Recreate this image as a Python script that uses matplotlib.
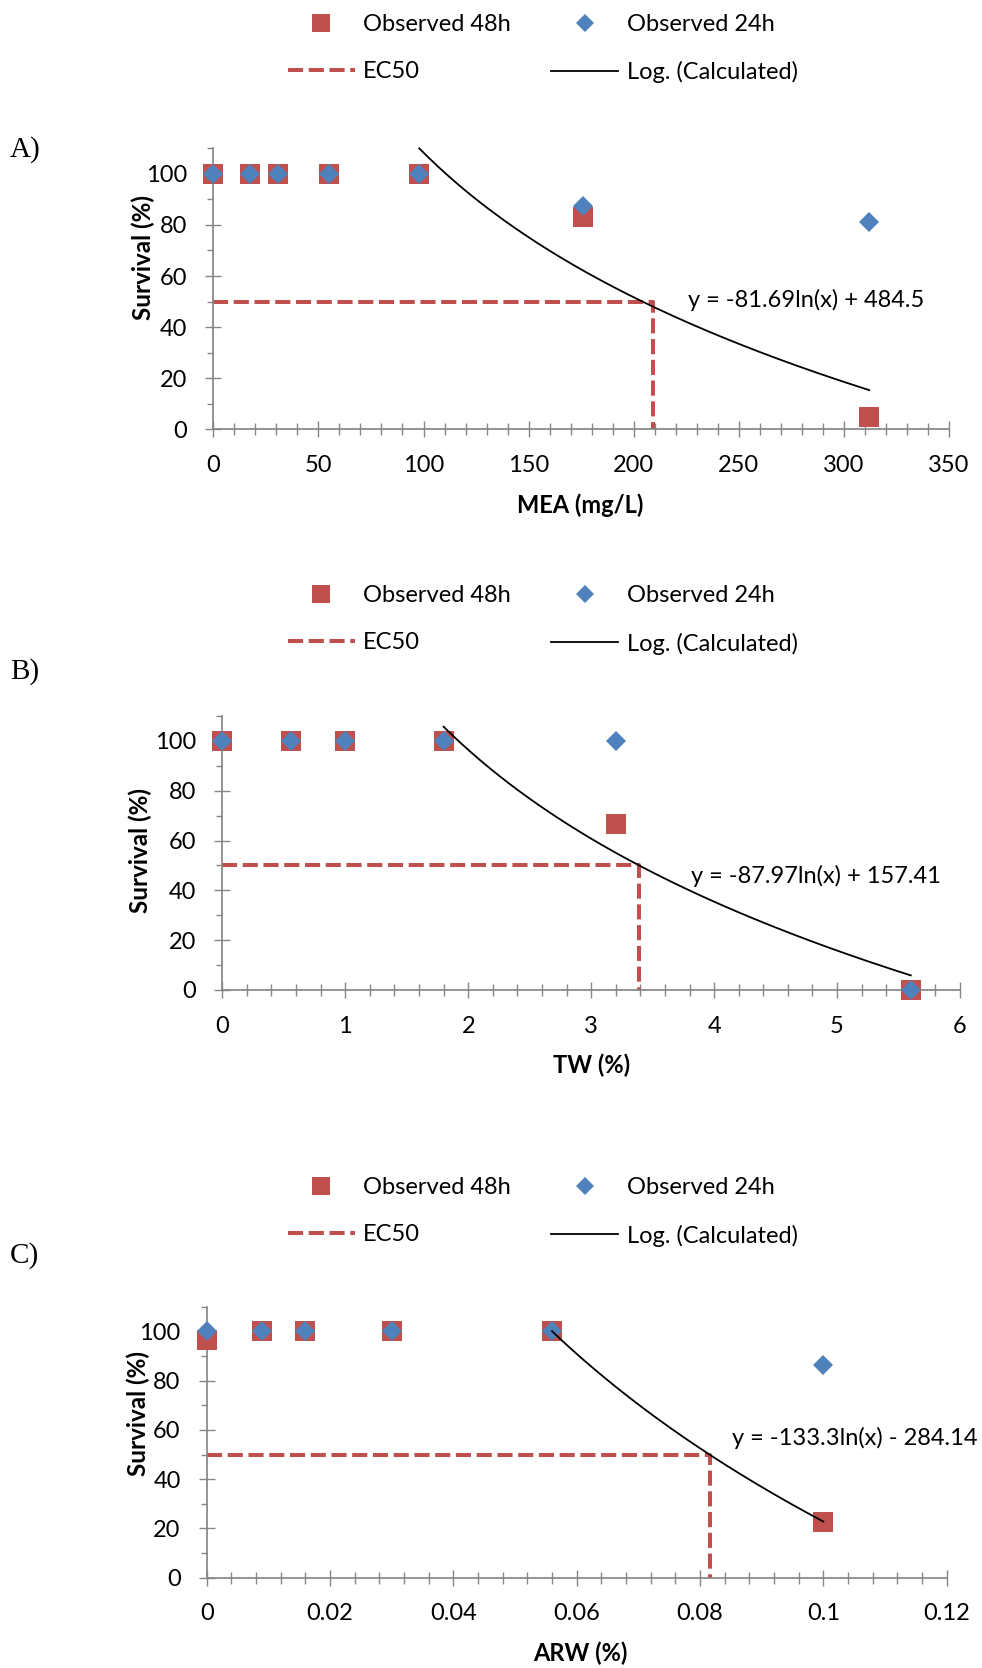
import numpy as np
import matplotlib
matplotlib.use("Agg")
import matplotlib.pyplot as plt
from matplotlib.lines import Line2D
from matplotlib.ticker import MultipleLocator, FuncFormatter

RED = "#C0504D"
BLUE = "#4F81BD"
AXC = "#868686"
W, H = 982, 1668
FS = 17
plt.rcParams.update({"font.family": ["Lato", "DejaVu Sans"], "font.size": FS})

# ---------------------------------------------------------------- data
EC_LEVEL = 50

a_x = [0, 17.5, 31, 55, 98, 176, 312]
a_48h = [100, 100, 100, 100, 100, 83.3, 5]
a_24h = [100, 100, 100, 100, 100, 87.5, 81]
a_ec50 = 209
a_coef = (-81.69, 484.5)          # y = a*ln(x) + b
a_fit = (98, 312)
a_eq = "y = -81.69ln(x) + 484.5"

b_x = [0, 0.56, 1.0, 1.8, 3.2, 5.6]
b_48h = [100, 100, 100, 100, 66.7, 0]
b_24h = [100, 100, 100, 100, 100, 0]
b_ec50 = 3.39
b_coef = (-87.97, 157.41)
b_fit = (1.8, 5.6)
b_eq = "y = -87.97ln(x) + 157.41"

c_x = [0, 0.009, 0.016, 0.03, 0.056, 0.1]
c_48h = [96.7, 100, 100, 100, 100, 22.6]
c_24h = [100, 100, 100, 100, 100, 86.2]
c_ec50 = 0.0816
c_coef = (-133.3, -284.14)
c_fit = (0.056, 0.1)
c_eq = "y = -133.3ln(x) - 284.14"

labels = ["Observed 48h", "EC50", "Observed 24h", "Log. (Calculated)"]


def px(x, y):
    return x / W, 1 - y / H


def rect(l, r, t, b):
    return [l / W, 1 - b / H, (r - l) / W, (b - t) / H]


fig = plt.figure(figsize=(W / 100, H / 100), dpi=100)

panels = [
    dict(tag="A)", x=a_x, y48=a_48h, y24=a_24h, ec=a_ec50, coef=a_coef, fit=a_fit, eq=a_eq,
         xlabel="MEA (mg/L)", xlim=350, maj=50, mnr=10,
         rect=rect(213.3, 949, 148.3, 429.3), leg=(542.8, 48.5), tagpos=(10, 150),
         eqpos=(688.3, 300), ylpos=(143.3, 257.5), xlpos=(580, 505)),
    dict(tag="B)", x=b_x, y48=b_48h, y24=b_24h, ec=b_ec50, coef=b_coef, fit=b_fit, eq=b_eq,
         xlabel="TW (%)", xlim=6, maj=1, mnr=0.2,
         rect=rect(222.3, 960, 716, 990), leg=(542.8, 620), tagpos=(10, 671.7),
         eqpos=(690.7, 876), ylpos=(140, 850), xlpos=(591.8, 1065)),
    dict(tag="C)", x=c_x, y48=c_48h, y24=c_24h, ec=c_ec50, coef=c_coef, fit=c_fit, eq=c_eq,
         xlabel="ARW (%)", xlim=0.12, maj=0.02, mnr=0.004,
         rect=rect(206.7, 946.7, 1306.8, 1577.7), leg=(542.8, 1212), tagpos=(10, 1255.5),
         eqpos=(731.7, 1438.3), ylpos=(138.3, 1413.6), xlpos=(580.5, 1653.3)),
]

for p in panels:
    ax = fig.add_axes(p["rect"])
    ax.set_xlim(0, p["xlim"])
    ax.set_ylim(0, 110)

    # EC50 guide
    ax.plot([0, p["ec"], p["ec"]], [EC_LEVEL, EC_LEVEL, 0], color=RED, lw=2.9,
            dashes=(3.75, 1.4), dash_capstyle="butt", zorder=2, clip_on=False)
    ax.plot(p["x"], p["y48"], ls="none", marker="s", ms=14.4, mew=0, color=RED,
            zorder=3, clip_on=False)
    ax.plot(p["x"], p["y24"], ls="none", marker="D", ms=10.2, mew=0, color=BLUE,
            zorder=4, clip_on=False)
    xs = np.linspace(p["fit"][0], p["fit"][1], 200)
    ax.plot(xs, p["coef"][0] * np.log(xs) + p["coef"][1], color="black", lw=1.3,
            zorder=5, clip_on=False)

    for s in ["top", "right"]:
        ax.spines[s].set_visible(False)
    for s in ["left", "bottom"]:
        ax.spines[s].set_color(AXC)
        ax.spines[s].set_linewidth(1.25)
    ax.xaxis.set_major_locator(MultipleLocator(p["maj"]))
    ax.xaxis.set_minor_locator(MultipleLocator(p["mnr"]))
    ax.yaxis.set_major_locator(MultipleLocator(20))
    ax.yaxis.set_minor_locator(MultipleLocator(10))
    ax.xaxis.set_major_formatter(FuncFormatter(lambda v, _: f"{v:g}"))
    ax.tick_params(axis="y", which="major", direction="inout", length=12, width=1,
                   color=AXC, pad=12.7, labelsize=FS)
    ax.tick_params(axis="y", which="minor", direction="out", length=4.1, width=1, color=AXC)
    ax.tick_params(axis="x", which="major", direction="inout", length=11.3, width=1,
                   color=AXC, pad=12.8, labelsize=FS)
    ax.tick_params(axis="x", which="minor", direction="inout", length=8.4, width=1, color=AXC)

    handles = [
        Line2D([], [], ls="none", marker="s", ms=13, mew=0, color=RED),
        Line2D([], [], color=RED, lw=2.9, dashes=(3.75, 1.4), dash_capstyle="butt"),
        Line2D([], [], ls="none", marker="D", ms=9.2, mew=0, color=BLUE),
        Line2D([], [], color="black", lw=1.3),
    ]
    ax.legend(handles, labels, ncol=2, loc="center", bbox_to_anchor=px(*p["leg"]),
              bbox_transform=fig.transFigure, frameon=False, borderpad=0, borderaxespad=0,
              handlelength=2.83, handletextpad=0.36, columnspacing=1.7, labelspacing=1.1,
              fontsize=FS)

    fig.text(*px(*p["tagpos"]), p["tag"], family="Liberation Serif", fontsize=21,
             ha="left", va="center")
    fig.text(*px(*p["eqpos"]), p["eq"], fontsize=FS, ha="left", va="center")
    fig.text(*px(*p["ylpos"]), "Survival (%)", fontsize=17.5, fontweight="bold",
             rotation=90, ha="center", va="center")
    fig.text(*px(*p["xlpos"]), p["xlabel"], fontsize=FS, fontweight="bold",
             ha="center", va="center")

fig.savefig("out.png", dpi=100)
